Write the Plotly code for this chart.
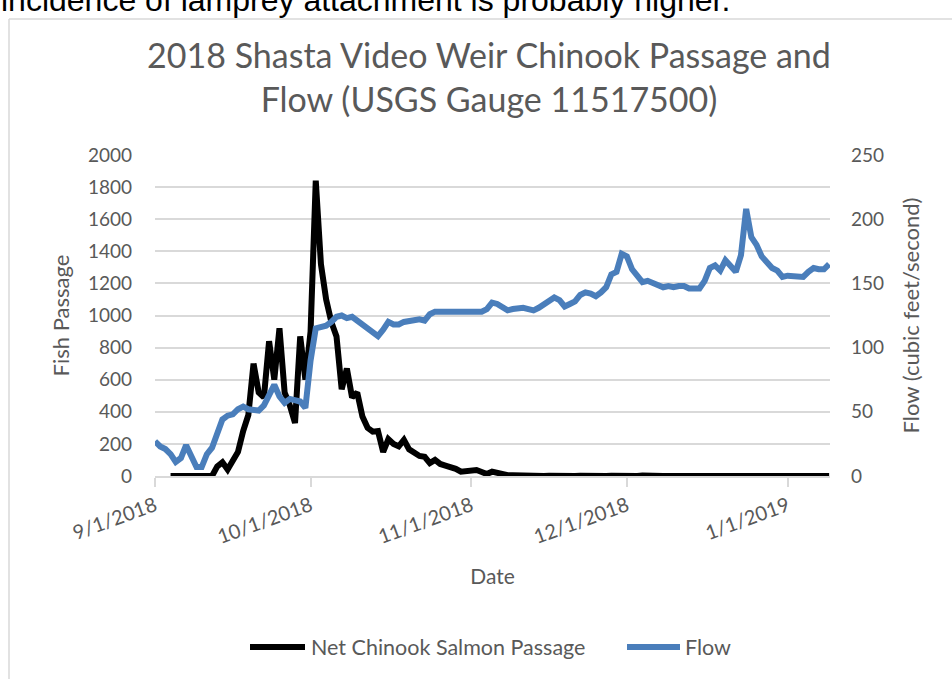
import pandas as pd
import plotly.graph_objects as go

# Daily flow at USGS gauge 11517500 (cfs), 9/1/2018 - 1/9/2019
flow_start = "2018-09-01"
flow_cfs = [
    27, 23, 21, 17, 11, 14, 24, 14, 7, 7,
    17, 22, 33, 44, 47, 48, 52, 54, 52, 51,
    51, 55, 63, 71, 62, 57, 60, 59, 58, 53,
    90, 115, 116, 117, 120, 124, 125, 123, 124, 121,
    118, 115, 112, 109, 114, 120, 118, 118, 120, 121,
    122, 122, 121, 126, 128, 128, 128, 128, 127, 128,
    128, 127, 128, 128, 130, 135, 134, 131, 129, 130,
    131, 131, 130, 129, 131, 134, 137, 139, 137, 132,
    134, 136, 141, 143, 142, 140, 143, 147, 157, 159,
    173, 171, 161, 155, 151, 152, 150, 148, 147, 148,
    147, 148, 148, 146, 146, 146, 152, 162, 164, 160,
    168, 163, 159, 172, 208, 186, 180, 171, 166, 162,
    160, 155, 156, 156, 155, 155, 159, 162, 161, 161,
    165,
]

# Daily net Chinook salmon passage at the weir, 9/4/2018 - 1/9/2019
fish_start = "2018-09-04"
fish_passage = [
    0, 0, 0, 0, 5, 0, 3, 5, 0, 60,
    85, 40, 100, 150, 280, 380, 700, 520, 490, 840,
    600, 920, 520, 440, 330, 870, 600, 900, 1840, 1320,
    1100, 960, 870, 540, 670, 490, 520, 370, 300, 276,
    280, 150, 230, 200, 185, 225, 166, 145, 125, 120,
    80, 100, 75, 65, 58, 45, 27, 30, 35, 37,
    25, 12, 27, 18, 8, 5, 5, 3, 2, 0,
    3, 0, 0, 2, 0, 0, 3, 0, 0, 2,
    0, 0, 0, 3, 0, 2, 0, 0, 5, 0,
    0, 3, 0, 0, 2, 0, 0, 0, 3, 0,
    0, 2, 0, 0, 0, 2, 0, 0, 0, 0,
    0, 2, 0, 0, 0, 0, 0, 0, 0, 0,
    0, 0, 0, 0, 0, 0, 0, 0,
]

series_names = ["Net Chinook Salmon Passage", "Flow"]
series_colors = ["#000000", "#4a7ebb"]
title_text = "2018 Shasta Video Weir Chinook Passage and<br>Flow (USGS Gauge 11517500)"
caption_text = "incidence of lamprey attachment is probably higher."

flow_dates = pd.date_range(flow_start, periods=len(flow_cfs), freq="D")
fish_dates = pd.date_range(fish_start, periods=len(fish_passage), freq="D")

GRAY = "#595959"
GRID = "#d9d9d9"
FONT = "Lato"
LINE_W = 6

fig = go.Figure()
fig.add_trace(go.Scatter(
    x=fish_dates, y=fish_passage, mode="lines",
    name=series_names[0],
    line=dict(color=series_colors[0], width=LINE_W),
    yaxis="y",
))
fig.add_trace(go.Scatter(
    x=flow_dates, y=flow_cfs, mode="lines",
    name=series_names[1],
    line=dict(color=series_colors[1], width=LINE_W),
    yaxis="y2",
))

# plot area in pixels: x 155..830, y 155..476
L, R, T, B = 155, 830, 155, 476
W, H = 952, 679

def px_x(px):
    return (px - L) / (R - L)

def px_y(py):
    return (B - py) / (B - T)

fig.update_layout(
    width=W, height=H,
    margin=dict(l=L, r=W - R, t=T, b=H - B, pad=0),
    paper_bgcolor="white", plot_bgcolor="white",
    font=dict(family=FONT, color=GRAY, size=19),
    title=dict(
        text=title_text, x=px_x(489), xref="paper", xanchor="center",
        y=1 - 68 / H, yanchor="middle",
        font=dict(family=FONT, size=34, color=GRAY),
    ),
    xaxis=dict(
        type="date",
        range=["2018-09-01", "2019-01-09 04:00"],
        tick0="2018-09-01", dtick="M1",
        tickformat="%-m/%-d/%Y",
        tickangle=-20,
        ticks="outside", ticklen=9, tickcolor=GRID, tickwidth=1.5,
        showline=True, linecolor=GRID, linewidth=1.5,
        showgrid=False, zeroline=False,
        tickfont=dict(size=20, color=GRAY),
        title=dict(text="Date", font=dict(size=21, color=GRAY), standoff=22),
    ),
    yaxis=dict(
        range=[0, 2000], dtick=200,
        showgrid=True, gridcolor=GRID, gridwidth=1.5,
        zeroline=False, showline=False, ticks="",
        ticklabelstandoff=22,
        tickfont=dict(size=19, color=GRAY),
        title=dict(text="Fish Passage", font=dict(size=22, color=GRAY), standoff=12),
    ),
    yaxis2=dict(
        range=[0, 250], dtick=50,
        overlaying="y", side="right",
        showgrid=False, zeroline=False, showline=False, ticks="",
        ticklabelstandoff=20,
        tickfont=dict(size=19, color=GRAY),
        title=dict(text="Flow (cubic feet/second)", font=dict(size=22, color=GRAY), standoff=20),
    ),
    showlegend=False,
)

# legend row below the plot: sample line + label for each series
legend_y = px_y(647)
legend_items = [(250, 305, 309), (627, 680, 683)]
for (x0, x1, xt), name, color in zip(legend_items, series_names, series_colors):
    fig.add_shape(type="line", xref="paper", yref="paper",
                  x0=px_x(x0), x1=px_x(x1), y0=legend_y, y1=legend_y,
                  line=dict(color=color, width=LINE_W))
    fig.add_annotation(text=name, xref="paper", yref="paper",
                       x=px_x(xt), xanchor="left", y=legend_y, yanchor="middle",
                       showarrow=False, font=dict(family=FONT, size=21.5, color=GRAY))

# chart-area border (left and top edges visible)
fig.add_shape(type="line", xref="paper", yref="paper",
              x0=px_x(9), x1=px_x(960), y0=px_y(19), y1=px_y(19),
              line=dict(color=GRID, width=1.5))
fig.add_shape(type="line", xref="paper", yref="paper",
              x0=px_x(9), x1=px_x(9), y0=px_y(19), y1=px_y(700),
              line=dict(color=GRID, width=1.5))

# trailing sentence of the surrounding text above the chart
fig.add_annotation(
    text=caption_text, xref="paper", yref="paper",
    x=px_x(-1), xanchor="left", y=px_y(20), yanchor="bottom",
    showarrow=False, font=dict(family="Liberation Sans", size=32, color="#000000"),
)

fig.write_html("out.html")
